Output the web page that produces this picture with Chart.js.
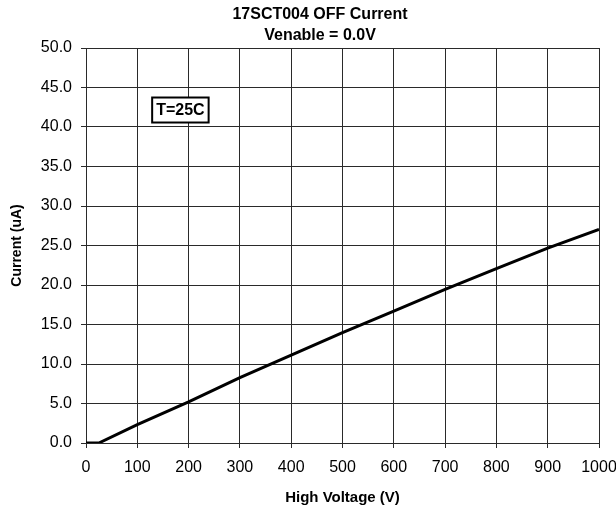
<!DOCTYPE html>
<html>
<head>
<meta charset="utf-8">
<script src="https://cdn.jsdelivr.net/npm/chart.js@4/dist/chart.umd.min.js"></script>
<style>
  html, body { margin: 0; padding: 0; background: #fff; }
  canvas { display: block; }
</style>
</head>
<body>
<canvas id="chart" width="616" height="512"></canvas>
<script>
const titleLines = ['17SCT004 OFF Current', 'Venable = 0.0V'];
const xLabel = 'High Voltage (V)';
const yLabel = 'Current (uA)';
const noteText = 'T=25C';
const notePos = [184, 42.15]; // in data units

// High voltage (V) and off current (uA)
const voltage = [0, 25, 100, 200, 300, 400, 500, 600, 700, 800, 900, 1000];
const current = [0, 0, 2.33, 5.2, 8.28, 11.12, 13.96, 16.68, 19.44, 22.07, 24.66, 27.04];

const FONT = '"Liberation Sans", Arial, sans-serif';
const GRID = '#2a2a2a';

// two line title, drawn a bit right of the canvas centre like the original
const titlePlugin = {
    id: 'titleLines',
    afterDraw(chart) {
        const ctx = chart.ctx;
        ctx.save();
        ctx.fillStyle = '#000';
        ctx.font = 'bold 16px ' + FONT;
        ctx.textAlign = 'center';
        ctx.textBaseline = 'alphabetic';
        ctx.fillText(titleLines[0], 320, 19);
        ctx.fillText(titleLines[1], 320, 40);
        ctx.restore();
    },
};

// boxed "T=25C" note
const notePlugin = {
    id: 'noteBox',
    afterDatasetsDraw(chart) {
        const { ctx, scales } = chart;
        const x = scales.x.getPixelForValue(notePos[0]);
        const y = scales.y.getPixelForValue(notePos[1]);
        ctx.save();
        ctx.font = 'bold 16px ' + FONT;
        const w = ctx.measureText(noteText).width + 8;
        const h = 25;
        ctx.fillStyle = '#fff';
        ctx.fillRect(x - w / 2, y - h / 2, w, h);
        ctx.lineWidth = 2;
        ctx.strokeStyle = '#000';
        ctx.strokeRect(x - w / 2, y - h / 2, w, h);
        ctx.fillStyle = '#000';
        ctx.textAlign = 'center';
        ctx.textBaseline = 'middle';
        ctx.fillText(noteText, x, y + 1);
        ctx.restore();
    },
};

new Chart(document.getElementById('chart'), {
    type: 'line',
    data: {
        datasets: [{
            data: voltage.map((v, i) => ({ x: v, y: current[i] })),
            borderColor: '#000',
            borderWidth: 3,
            pointRadius: 0,
            tension: 0,
            fill: false,
        }],
    },
    options: {
        responsive: false,
        animation: false,
        layout: { padding: { top: 48, right: 17, left: 0, bottom: 0 } },
        plugins: { legend: { display: false }, tooltip: { enabled: false } },
        scales: {
            x: {
                type: 'linear',
                min: 0,
                max: 1000,
                afterFit: (s) => { s.height = 69; s.paddingLeft = 0; s.paddingRight = 0; },
                ticks: {
                    stepSize: 100,
                    color: '#000',
                    padding: 10,
                    maxRotation: 0,
                    font: { family: FONT, size: 16 },
                    callback: (v) => String(v),
                },
                grid: { color: GRID, tickLength: 5, lineWidth: 1 },
                border: { color: GRID, width: 1 },
                title: {
                    display: true,
                    text: xLabel,
                    color: '#000',
                    font: { family: FONT, size: 15, weight: 'bold' },
                    padding: { top: 0, bottom: 5 },
                },
            },
            y: {
                min: 0,
                max: 50,
                afterFit: (s) => { s.width = 86; s.paddingTop = 0; s.paddingBottom = 0; },
                ticks: {
                    stepSize: 5,
                    color: '#000',
                    padding: 9,
                    font: { family: FONT, size: 16 },
                    callback: (v) => v.toFixed(1),
                },
                grid: { color: GRID, tickLength: 5, lineWidth: 1 },
                border: { color: GRID, width: 1 },
                title: {
                    display: true,
                    text: yLabel,
                    color: '#000',
                    font: { family: FONT, size: 14, weight: 'bold' },
                    padding: 9,
                },
            },
        },
    },
    plugins: [titlePlugin, notePlugin],
});
</script>
</body>
</html>
